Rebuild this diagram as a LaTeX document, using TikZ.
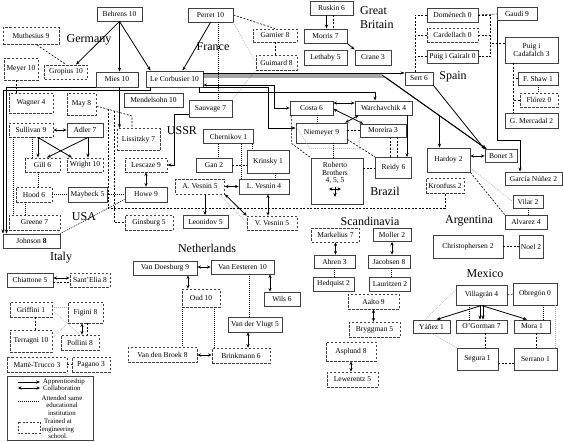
\documentclass[tikz,border=0pt]{standalone}
\usepackage{fontspec}
\setmainfont{Liberation Serif}
\usetikzlibrary{arrows.meta, positioning, calc}
\definecolor{boxline}{HTML}{404040}
\definecolor{faintline}{HTML}{A8A8A8}
\tikzset{
  abox/.style={rectangle, draw=boxline, line width=0.9pt, fill=white, inner sep=1pt,
               minimum height=14, align=center, font=\fontsize{7.5}{7.8}\selectfont},
  ebox/.style={abox, dash pattern=on 2.5pt off 1.5pt},
  region/.style={font=\fontsize{12}{14}\selectfont, inner sep=0pt},
  appr/.style={-{Stealth[length=4pt, width=3.2pt]}, line width=0.8pt},
  collab/.style={{Stealth[length=3.5pt, width=3.2pt]}-{Stealth[length=3.5pt, width=3.2pt]}, line width=0.8pt},
  school/.style={line width=0.6pt, dash pattern=on 1pt off 1pt},
  samel/.style={line width=0.6pt, dash pattern=on 2pt off 1.5pt},
  faint/.style={faintline, line width=0.5pt, dash pattern=on 1pt off 1pt},
  lgd/.style={font=\fontsize{6.8}{7.6}\selectfont, inner sep=0pt, align=center},
}
\begin{document}
\begin{tikzpicture}[x=1pt, y=-1pt]
  \useasboundingbox (0,0) rectangle (563,442);

  % region names
  \node[region] at (89,40) {Germany};
  \node[region] at (213,47) {France};
  \node[region, align=left, anchor=west] at (360,18) {Great\\Britain};
  \node[region] at (453,77) {Spain};
  \node[region] at (182,131) {USSR};
  \node[region] at (385,191) {Brazil};
  \node[region] at (84,217) {USA};
  \node[region] at (370,221) {Scandinavia};
  \node[region] at (469,221) {Argentina};
  \node[region] at (207,248) {Netherlands};
  \node[region] at (61,258) {Italy};
  \node[region] at (485,274) {Mexico};

  % Germany / France
  \node[abox, minimum width=45] (behrens) at (119.5,14) {Behrens 10};
  \node[ebox, minimum width=56, minimum height=17] (muthesius) at (31,36) {Muthesius 9};
  \node[ebox, minimum width=34, minimum height=22] (meyer) at (21,69) {Meyer 10};
  \node[ebox, minimum width=43] (gropius) at (66,72) {Gropius 10};
  \node[abox, minimum width=42, minimum height=15] (mies) at (117,79.5) {Mies 10};
  \node[abox, minimum width=57, minimum height=16] (lecorb) at (174.5,79) {Le Corbusier 10};
  \node[ebox, minimum width=44, minimum height=20] (wagner) at (31,103) {Wagner 4};
  \node[ebox, minimum width=29, minimum height=22] (may) at (81.5,104) {May 8};
  \node[abox, minimum width=59] (mendel) at (153.5,100) {Mendelsohn 10};
  \node[ebox, minimum width=43, minimum height=22] (lissitzky) at (138.5,139.5) {Lissitzky 7};
  \node[abox, minimum width=45] (perret) at (210.5,15) {Perret 10};
  \node[ebox, minimum width=44, minimum height=13] (garnier) at (275,35.5) {Garnier 8};
  \node[ebox, minimum width=41, minimum height=15] (guimard) at (276.5,62.5) {Guimard 8};
  \node[abox, minimum width=43, minimum height=17] (sauvage) at (210.5,108.5) {Sauvage 7};

  % Great Britain
  \node[abox, minimum width=43] (ruskin) at (331.5,8) {Ruskin 6};
  \node[abox, minimum width=43] (morris) at (325.5,36) {Morris 7};
  \node[abox, minimum width=43, minimum height=15] (lethaby) at (325.5,57.5) {Lethaby 5};
  \node[abox, minimum width=36, minimum height=15] (crane) at (373,57.5) {Crane 3};

  % Spain
  \node[abox, minimum width=51] (domenech) at (452.5,15) {Doménech 0};
  \node[abox, minimum width=40, minimum height=13] (gaudi) at (517,14) {Gaudí 9};
  \node[ebox, minimum width=51] (cardellach) at (452.5,35) {Cardellach 0};
  \node[abox, minimum width=51, minimum height=13] (gairalt) at (452.5,56.5) {Puig i Gairalt 0};
  \node[abox, minimum width=53, minimum height=26] (cadafalch) at (531.5,50) {Puig i\\Cadafalch 3};
  \node[abox, minimum width=28, minimum height=13] (sert) at (419,78.5) {Sert 6};
  \node[abox, minimum width=40, minimum height=13] (fshaw) at (538,78.5) {F. Shaw 1};
  \node[ebox, minimum width=38] (florez) at (539,100) {Flórez 0};
  \node[abox, minimum width=53, minimum height=15] (mercadal) at (531.5,120.5) {G. Mercadal 2};

  % Brazil
  \node[abox, minimum width=43] (costa) at (311.5,108) {Costa 6};
  \node[abox, minimum width=57] (warch) at (383.5,108) {Warchavchik 4};
  \node[abox, minimum width=51, minimum height=20] (niemeyer) at (321.5,133) {Niemeyer 9};
  \node[abox, minimum width=46, minimum height=13] (moreira) at (383,130.5) {Moreira 3};
  \node[abox, minimum width=52, minimum height=46] (roberto) at (337,181) {};
  \node[abox, draw=none, fill=none] (robertotext) at (335,173) {Roberto\\Brothers\\4, 5, 5};
  \node[abox, minimum width=36, minimum height=21] (reidy) at (393.5,168) {Reidy 6};

  % Argentina
  \node[abox, minimum width=32, minimum height=13] (bonet) at (501,156) {Bonet 3};
  \node[abox, minimum width=43, minimum height=24] (hardoy) at (448.5,160) {Hardoy 2};
  \node[abox, minimum width=57, minimum height=13] (garcia) at (533.5,178.5) {García Núñez 2};
  \node[ebox, minimum width=38, minimum height=15] (kronfuss) at (445,185.5) {Kronfuss 2};
  \node[abox, minimum width=30, minimum height=13] (vilar) at (528,201.5) {Vilar 2};
  \node[abox, minimum width=42] (alvarez) at (526,222) {Alvarez 4};
  \node[abox, minimum width=70, minimum height=23] (christo) at (468,246.5) {Christophersen 2};
  \node[abox, minimum width=24, minimum height=23] (noel) at (531,246.5) {Noel 2};

  % Mexico
  \node[abox, minimum width=51, minimum height=20] (villagran) at (481.5,295) {Villagrán 4};
  \node[abox, minimum width=44, minimum height=22] (obregon) at (535,294) {Obregón 0};
  \node[abox, minimum width=37, minimum height=13] (yanez) at (431.5,326.5) {Yáñez 1};
  \node[abox, minimum width=51, minimum height=13] (ogorman) at (481.5,326.5) {O'Gorman 7};
  \node[abox, minimum width=36, minimum height=13] (mora) at (532,326.5) {Mora 1};
  \node[abox, minimum width=41, minimum height=22] (segura) at (477.5,359) {Segura 1};
  \node[abox, minimum width=43, minimum height=22] (serrano) at (535.5,359) {Serrano 1};

  % USA
  \node[ebox, minimum width=44] (sullivan) at (31,130) {Sullivan 9};
  \node[abox, minimum width=36] (adler) at (85,130) {Adler 7};
  \node[ebox, minimum width=35] (gill) at (42.5,165) {Gill 6};
  \node[ebox, minimum width=36] (wright) at (85,165) {Wright 10};
  \node[ebox, minimum width=42] (lescaze) at (146,165) {Lescaze 9};
  \node[ebox, minimum width=36, minimum height=15] (hood) at (34,194.5) {Hood 6};
  \node[abox, minimum width=39, minimum height=15] (maybeck) at (87.5,194.5) {Maybeck 5};
  \node[abox, minimum width=42, minimum height=15] (howe) at (146,194.5) {Howe 9};
  \node[ebox, minimum width=51, minimum height=15] (greene) at (34.5,222.5) {Greene 7};
  \node[abox, minimum width=57] (johnson) at (31.5,241) {Johnson \textbf{8}};
  \node[ebox, minimum width=48, minimum height=15] (ginsburg) at (149,222.5) {Ginsburg 5};

  % USSR
  \node[abox, minimum width=50] (chernikov) at (228.5,136.5) {Chernikov 1};
  \node[abox, minimum width=36] (gan) at (214,165) {Gan 2};
  \node[abox, minimum width=42, minimum height=23] (krinsky) at (268,161.5) {Krinsky 1};
  \node[ebox, minimum width=49, minimum height=15] (avesnin) at (200,186.5) {A. Vesnin 5};
  \node[abox, minimum width=50, minimum height=15] (lvesnin) at (264,186.5) {L. Vesnin 4};
  \node[abox, minimum width=45, minimum height=13] (leonidov) at (205.5,222) {Leonidov 5};
  \node[ebox, minimum width=50] (vvesnin) at (272,223) {V. Vesnin 5};

  % Netherlands
  \node[abox, minimum width=64] (doesburg) at (165,268) {Van Doesburg 9};
  \node[abox, minimum width=63] (eesteren) at (242.5,267) {Van Eesteren 10};
  \node[ebox, minimum width=38, minimum height=18] (oud) at (201,298) {Oud 10};
  \node[abox, minimum width=36] (wils) at (282,299) {Wils 6};
  \node[abox, minimum width=54, minimum height=15] (vlugt) at (255,324.5) {Van der Vlugt 5};
  \node[ebox, minimum width=69, minimum height=15] (broek) at (162.5,355) {Van den Broek 8};
  \node[ebox, minimum width=58, minimum height=15] (brinkmann) at (241,355.5) {Brinkmann 6};

  % Italy
  \node[abox, minimum width=46] (chiattone) at (30,280) {Chiattone 5};
  \node[ebox, minimum width=40] (santelia) at (90,280) {Sant'Elia 8};
  \node[ebox, minimum width=42, minimum height=15] (griffini) at (31,309.5) {Griffini 1};
  \node[ebox, minimum width=35, minimum height=21] (figini) at (85.5,312.5) {Figini 8};
  \node[ebox, minimum width=42, minimum height=22] (terragni) at (31,341) {Terragni 10};
  \node[ebox, minimum width=38, minimum height=15] (pollini) at (80,342.5) {Pollini 8};
  \node[ebox, minimum width=60, minimum height=15] (mattetrucco) at (37,364.5) {Mattè-Trucco 3};
  \node[ebox, minimum width=38, minimum height=15] (pagano) at (91,364.5) {Pagano 3};

  % Scandinavia
  \node[ebox, minimum width=48] (markelius) at (335.5,235) {Markelius 7};
  \node[abox, minimum width=38, minimum height=13] (moller) at (392,235) {Moller 2};
  \node[abox, minimum width=41, minimum height=13] (ahren) at (334.5,261.5) {Ahren 3};
  \node[abox, minimum width=42, minimum height=13] (jacobsen) at (389,261.5) {Jacobsen 8};
  \node[abox, minimum width=41] (hedquist) at (333.5,284) {Hedquist 2};
  \node[abox, minimum width=41] (lauritzen) at (390,284) {Lauritzen 2};
  \node[ebox, minimum width=51, minimum height=15] (aalto) at (373.5,301.5) {Aalto 9};
  \node[ebox, minimum width=51, minimum height=15] (bryggman) at (374.5,329.5) {Bryggman 5};
  \node[ebox, minimum width=50, minimum height=19] (asplund) at (351,351.5) {Asplund 8};
  \node[ebox, minimum width=51, minimum height=15] (lewerentz) at (352.5,379.5) {Lewerentz 5};

  % Germany / France connectors
  \draw[appr] (behrens.south) -- ([xshift=10pt]gropius.north);
  \draw[appr] (behrens.south) -- (behrens.south |- mies.north);
  \draw[appr] (behrens.south) -- ([xshift=-24pt]lecorb.north);
  \draw[appr] (perret.south) -- ([xshift=8pt]lecorb.north);
  \draw[samel] ([xshift=6pt]muthesius.south) -- (gropius.north);
  \draw[samel] ([xshift=-5pt]meyer.south) -- ([xshift=-5pt]meyer.south |- wagner.north);
  \coordinate (lissbend) at (132,116);
  \draw[samel] ([yshift=-2pt]may.east) -- (lissbend) -- (lissbend |- lissitzky.north);
  \coordinate (mayfork) at ($([yshift=-2pt]may.east)!0.33!(lissbend)$);
  \coordinate (mayfork2) at ($([yshift=-2pt]may.east)!0.5!(lissbend)$);
  \draw[samel] (mayfork) |- ([yshift=-15pt]kronfuss.south) -- (kronfuss.south);
  \draw[samel] (mayfork2) |- (ginsburg.west);
  \draw[appr] ([xshift=2.5pt]mies.south) -- ([xshift=2.5pt]mies.south |- lissitzky.north);
  \draw[appr] (mies.south west) -| ([xshift=-25pt]johnson.north);
  \coordinate (lcdrop) at (150,90);
  \draw[appr] (lcdrop |- lecorb.south) -- (lcdrop) -| ([xshift=-28.5pt]johnson.north);
  \draw[appr] ([yshift=-5.5pt]sauvage.west) -| ([xshift=7pt]lescaze.east) -- (lescaze.east);
  \draw[samel] (perret.east) -- (garnier.north);
  \draw[samel] (garnier.south) -- (garnier.south |- guimard.north);
  \draw[school] ([xshift=8pt]perret.south) -- ([xshift=8pt]perret.south |- sauvage.north);
  \draw[faint] (perret.south east) -- (guimard.west);
  \draw[faint] (guimard.south west) -- (sauvage.north east);

  % Great Britain connectors
  \draw[appr] ([xshift=-5pt]ruskin.south) -- ([xshift=-5pt]ruskin.south |- morris.north);
  \draw[samel] ([xshift=2pt]ruskin.south) -- ([xshift=2pt]ruskin.south |- morris.north);
  \draw[appr] (morris.south east) -- (crane.north west);

  % Le Corbusier to the south and east
  \draw[appr] ([yshift=6pt]lecorb.east) -- ([yshift=6pt]lecorb.east -| sert.west);
  \coordinate (lcbend) at (382,75);
  \coordinate (lcbendb) at (385,77);
  \draw[appr] ([yshift=4pt]lecorb.east) -- (lcbend) -- ([xshift=2pt]bonet.north west);
  \draw[appr] ([yshift=2pt]lecorb.east) -- (lcbendb) -- ([xshift=2pt]bonet.north west);
  \coordinate (hfork) at ($(lcbend)!0.55!([xshift=2pt]bonet.north west)$);
  \draw[appr] (hfork) -- (hfork |- hardoy.north);
  \draw[appr] (sert.south east) -- (bonet.north west);
  \draw[collab] ([yshift=-6pt]lecorb.east) -| ([xshift=-15pt]costa.west) -- (costa.west);
  \draw[appr] (lecorb.south east) -| ([xshift=-27pt,yshift=5pt]niemeyer.west) -- ([yshift=5pt]niemeyer.west);
  \draw[appr] ([xshift=-4pt]lecorb.south east) |- ([xshift=-8.5pt,yshift=8pt]warch.north) -- ([xshift=-8.5pt]warch.north);

  % Spain connectors
  \draw[samel] (domenech.east) -- (gaudi.west);
  \draw[samel] (domenech.west) -| ([xshift=-4pt]sert.north);
  \draw[samel] (cardellach.west) -- ++(-12,0);
  \draw[samel] (gairalt.west) -- ++(-12,0);
  \draw[samel] (domenech.east) -| ([xshift=12pt]gairalt.east) -- (gairalt.east);
  \draw[samel] (cardellach.east) -- ++(12,0);
  \draw[samel] ([yshift=7pt]cadafalch.west) -- ++(-15,0);
  \draw[samel] ([xshift=-18.5pt]cadafalch.south) -- ([xshift=-18.5pt]cadafalch.south |- mercadal.north);
  \draw[samel] (fshaw.west) -- ++(-5,0);
  \draw[samel] (florez.west) -- ++(-7,0);
  \draw[school] (fshaw.south) -- (fshaw.south |- florez.north);
  \draw[appr] ([xshift=1pt]gaudi.south west) |- ([xshift=-13.5pt,yshift=31pt]garcia.north) -- ([xshift=-13.5pt]garcia.north);

  % Brazil connectors
  \draw[collab] ([yshift=5pt]costa.east) -- ([yshift=5pt]warch.west);
  \draw[collab] ([yshift=-1pt]costa.east) -- ([xshift=-20pt]moreira.north);
  \draw[collab] ([xshift=-25pt]warch.south) -- ([xshift=-2pt]niemeyer.north east);
  \draw[school] ([xshift=6pt]costa.south) -- ([xshift=6pt]costa.south |- niemeyer.north);
  \draw[samel] (niemeyer.east |- moreira.west) -- (moreira.west);
  \draw[school] ([xshift=12pt]niemeyer.south) -- ([xshift=12pt]niemeyer.south |- roberto.north);
  \draw[samel] ([yshift=4pt]niemeyer.south east) -- (reidy.north west);
  \draw[samel] (roberto.east |- reidy.west) -- (reidy.west);
  \draw[samel] ([xshift=7pt]moreira.south) -- ([xshift=7pt]moreira.south |- reidy.north);
  \draw[samel] ([xshift=14pt]moreira.south) -- ([xshift=14pt]moreira.south |- reidy.north);
  \draw[appr] ([xshift=23.5pt]warch.south) -- ([xshift=23.5pt]warch.south |- reidy.north);
  \draw[faint] (costa.south west) -- ++(20,33) -| (moreira.south west);
  \draw[samel] ([xshift=2pt]costa.south west) -- ++(0,28) -- (roberto.north west);
  \draw[collab] (329,189) -- (341,189);
  \draw[appr] (335,187) -- (335,197);

  % Argentina connectors
  \draw[collab] (hardoy.east |- bonet.west) -- (bonet.west);
  \draw[faint] ([yshift=-8pt]hardoy.east) -- (vilar.west);
  \draw[samel] (hardoy.south east) -- (alvarez.north west);
  \draw[school] (vilar.south) -- (vilar.south |- alvarez.north);
  \draw[samel] (christo.east) -- (noel.west);

  % Mexico connectors
  \draw[samel] (villagran.east) -- (obregon.west);
  \draw[appr] (villagran.south) -- ([xshift=5pt]yanez.north);
  \draw[appr] ([xshift=-1.5pt]villagran.south) -- ([xshift=-1.5pt]ogorman.north);
  \draw[appr] ([xshift=1.5pt]villagran.south) -- ([xshift=1.5pt]ogorman.north);
  \draw[appr] (villagran.south) -- ([xshift=-5pt]mora.north);
  \draw[faint] ([yshift=5pt]villagran.west) -- ([xshift=-6.5pt]yanez.north);
  \draw[school] ([xshift=-12.5pt]villagran.south) -- ([xshift=-12.5pt]villagran.south |- ogorman.north);
  \draw[school] ([xshift=8pt]obregon.south) -- ([xshift=8pt]obregon.south |- mora.north);
  \draw[faint] ([xshift=20pt]obregon.south) -- ([xshift=20pt]obregon.south |- serrano.north);
  \draw[faint] (yanez.south) -- (segura.north west);
  \draw[samel] ([xshift=3.5pt]ogorman.south) -- ([xshift=3.5pt]ogorman.south |- segura.north);
  \draw[samel] ([xshift=4pt]mora.south) -- ([xshift=4pt]mora.south |- serrano.north);
  \draw[samel] ([yshift=-4pt]segura.east) -- ([yshift=-4pt]serrano.west);

  % USA connectors
  \draw[collab] (sullivan.east) -- (adler.west);
  \draw[appr] ([xshift=7pt]sullivan.south) -- ([xshift=-4.5pt]gill.north);
  \draw[appr] ([xshift=7pt]sullivan.south) -- ([xshift=-13pt]wright.north);
  \draw[appr] ([xshift=3pt]adler.south) -- ([xshift=4.5pt]gill.north);
  \draw[appr] ([xshift=3pt]adler.south) -- ([xshift=3pt]wright.north);
  \draw[school] ([xshift=-18pt]sullivan.south) -- ([xshift=-18pt]sullivan.south |- greene.north);
  \draw[school] ([xshift=1pt]sullivan.south) -- ([xshift=1pt]sullivan.south |- gill.north);
  \draw[school] ([xshift=-4.5pt]gill.south) -- ([xshift=-4.5pt]gill.south |- hood.north);
  \draw[school] ([xshift=-9pt]hood.south) -- ([xshift=-9pt]hood.south |- greene.north);
  \draw[school] (hood.east) -- (maybeck.west);
  \draw[school] (maybeck.east) -- (howe.west);
  \draw[collab] (lescaze.south) -- (howe.north);
  \draw[school] ([yshift=3pt]howe.south west) -- (johnson.north east);

  % USSR connectors
  \draw[school] ([xshift=-10.5pt]chernikov.south) -- ([xshift=-10.5pt]chernikov.south |- gan.north);
  \draw[school] ([xshift=12.5pt]chernikov.south) -- ([xshift=12.5pt]chernikov.south |- lvesnin.north);
  \draw[school] ([xshift=24pt]chernikov.south) -- ([xshift=24pt]chernikov.south |- krinsky.north);
  \draw[samel] (gan.east) -- (gan.east -| krinsky.west);
  \draw[school] ([xshift=7pt]krinsky.south) -- ([xshift=7pt]krinsky.south |- lvesnin.north);
  \draw[collab] (avesnin.east) -- (lvesnin.west);
  \draw[appr] ([xshift=5pt]avesnin.south) -- ([xshift=5pt]avesnin.south |- leonidov.north);
  \draw[collab] (avesnin.south east) -- (vvesnin.north west);
  \draw[faint] ([xshift=-5pt]avesnin.south east) -- (vvesnin.west);
  \draw[collab] ([xshift=4pt]lvesnin.south) -- ([xshift=4pt]lvesnin.south |- vvesnin.north);

  % Netherlands connectors
  \draw[collab] (doesburg.east |- eesteren.west) -- (eesteren.west);
  \draw[collab] ([xshift=23pt]doesburg.south) -- ([xshift=23pt]doesburg.south |- oud.north);
  \draw[collab] ([xshift=27.5pt]eesteren.south) -- ([xshift=27.5pt]eesteren.south |- wils.north);
  \draw[school] ([xshift=6.5pt]eesteren.south) -- ([xshift=6.5pt]eesteren.south |- vlugt.north);
  \draw[collab] ([xshift=-7pt]vlugt.south) -- ([xshift=-7pt]vlugt.south |- brinkmann.north);
  \draw[school] ([xshift=1pt]oud.south west) -- ([xshift=1pt]oud.south west |- broek.north);
  \draw[school] ([xshift=-6pt]oud.south east) -- ([xshift=-6pt]oud.south east |- brinkmann.north);
  \draw[collab] (broek.east) -- (broek.east -| brinkmann.west);

  % Italy connectors
  \draw[collab] ([yshift=2pt]chiattone.east) -- ([yshift=2pt]santelia.west);
  \draw[samel] ([yshift=-2pt]chiattone.east) -- ([yshift=-2pt]santelia.west);
  \draw[faint] ([yshift=2pt]griffini.east) -- ([yshift=2pt]griffini.east -| figini.west);
  \draw[faint] ([yshift=-1pt]griffini.east) -- (pollini.north);
  \draw[samel] ([xshift=4pt]griffini.south) -- ([xshift=4pt]griffini.south |- terragni.north);
  \draw[faint] ([yshift=3pt]terragni.east) -- (figini.south west);
  \draw[collab] ([xshift=-3.5pt]figini.south) -- ([xshift=-3.5pt]figini.south |- pollini.north);
  \draw[samel] ([xshift=1.5pt]figini.south) -- ([xshift=1.5pt]figini.south |- pollini.north);
  \draw[samel] (mattetrucco.east) -- (pagano.west);

  % Scandinavia connectors
  \draw[collab] (markelius.south) -- (markelius.south |- ahren.north);
  \draw[school] (ahren.south) -- (ahren.south |- hedquist.north);
  \draw[collab] (moller.south) -- (moller.south |- jacobsen.north);
  \draw[school] ([xshift=2pt]jacobsen.south) -- ([xshift=2pt]jacobsen.south |- lauritzen.north);
  \draw[collab] (aalto.south) -- (aalto.south |- bryggman.north);
  \draw[collab] (asplund.south) -- (asplund.south |- lewerentz.north);

  % legend
  \node[abox, minimum width=86, minimum height=64] (legend) at (50,408) {};
  \draw[appr] (18,382) -- (40,382);
  \node[lgd, anchor=west] (lgdappr) at (43,382) {Apprenticeship};
  \draw[collab] (18,388) -- (40,388);
  \node[lgd, anchor=west] (lgdcollab) at (43,388.5) {Collaboration};
  \draw[school] (18,401) -- (40,401);
  \node[lgd] (lgdschool) at (62,405.5) {Attended same\\educational\\institution};
  \draw[boxline, line width=0.6pt, dash pattern=on 2pt off 1.5pt] (18,422) rectangle (40,433);
  \node[lgd] (lgdeng) at (58,429) {Trained at\\engineering\\school.};
\end{tikzpicture}
\end{document}
